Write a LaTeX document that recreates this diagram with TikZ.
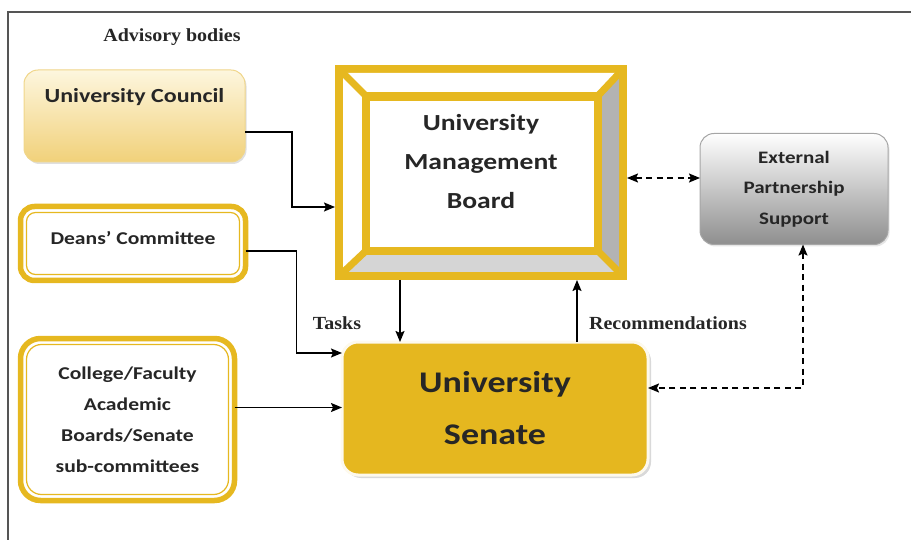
\documentclass[tikz,border=0pt]{standalone}
\usepackage{fontspec}
\setmainfont[FakeStretch=1.08]{Liberation Serif}
\newfontfamily\boxfont[FakeStretch=1.2]{Carlito}
\usetikzlibrary{arrows.meta,shadows,calc}
\definecolor{gold}{HTML}{E6B820}
\definecolor{goldfill}{HTML}{E5B71F}
\definecolor{ucTop}{HTML}{FDF6DE}
\definecolor{ucBot}{HTML}{F1D17A}
\definecolor{ucLine}{HTML}{F0D68A}
\definecolor{epsBot}{HTML}{8E8E8E}
\definecolor{epsLine}{HTML}{A6A6A6}
\definecolor{bevR}{HTML}{B3B3B3}
\definecolor{bevB}{HTML}{D5D5D5}
\definecolor{frameline}{HTML}{555555}
\tikzset{
  tip/.tip={Stealth[length=11pt,width=9pt,inset=2pt]},
  conn/.style={line width=1.6pt, -tip},
  dconn/.style={line width=1.6pt, dash pattern=on 6pt off 4.5pt, tip-tip},
  lbl/.style={font=\fontsize{18.5}{20}\selectfont\bfseries, text=black!85},
  btxt/.style={font=\boxfont\bfseries, text=black!85, align=center, inner sep=0pt},
  dbox/.style={draw=gold, line width=5.5pt, rounded corners=14pt, outer sep=0pt, fill=white},
}
\begin{document}
\begin{tikzpicture}[x=1pt,y=-1pt]
\useasboundingbox (0,0) rectangle (911,540);
% frame
\draw[frameline, line width=1.5pt] (8,540) -- (8,12) -- (911,12);
% advisory
\node[lbl] (adv) at (172,37) {Advisory bodies};
% University Council
\node[draw=ucLine, line width=1pt, rounded corners=14pt, top color=ucTop, bottom color=ucBot,
  minimum width=221pt, minimum height=92pt, outer sep=0pt,
  drop shadow={shadow xshift=1.5pt, shadow yshift=-2pt, opacity=0.25},
  btxt, font=\boxfont\bfseries\fontsize{20}{24}\selectfont, text height=13pt, text depth=39pt]
  (uc) at (134.5,116) {University Council};
% Deans
\node[dbox, minimum width=225pt, minimum height=74pt, btxt, font=\boxfont\bfseries\fontsize{18}{22}\selectfont, text height=12pt, text depth=9pt]
  (deans) at (133,243.5) {Deans’ Committee};
\draw[gold, line width=1.2pt, rounded corners=9pt] ($(deans.north west)+(6,6)$) rectangle ($(deans.south east)+(-6,-6)$);
% College
\node[dbox, rounded corners=20pt, minimum width=214pt, minimum height=162pt, btxt, font=\boxfont\bfseries\fontsize{18}{31}\selectfont]
  (college) at (127.5,419.5) {College/Faculty\\Academic\\Boards/Senate\\sub-committees};
\draw[gold, line width=1.2pt, rounded corners=15pt] ($(college.north west)+(6,6)$) rectangle ($(college.south east)+(-6,-6)$);
% UMB frame
\node[minimum width=292pt, minimum height=215pt, outer sep=0pt, inner sep=0pt] (umb) at (481,172.5) {};
\fill[gold] (335,65) rectangle (627,280);
\fill[white] (343,73) -- (619,73) -- (602,92) -- (362,92) -- cycle;
\fill[white] (343,73) -- (362,92) -- (362,255) -- (343,272) -- cycle;
\fill[bevR] (619,73) -- (619,272) -- (602,255) -- (602,92) -- cycle;
\fill[bevB] (343,272) -- (362,255) -- (602,255) -- (619,272) -- cycle;
\begin{scope}
\clip (343,73) rectangle (619,272);
\draw[gold, line width=7pt] (335,65) -- (370,100);
\draw[gold, line width=7pt] (627,65) -- (594,100);
\draw[gold, line width=7pt] (335,280) -- (370,247);
\draw[gold, line width=7pt] (627,280) -- (594,247);
\end{scope}
\fill[gold] (362,92) rectangle (602,255);
\fill[white] (370,101) rectangle (594,247);
\node[btxt, font=\boxfont\bfseries\fontsize{23}{39}\selectfont] (umbt) at (481,162) {University\\Management\\Board};
% EPS
\node[draw=epsLine, line width=1pt, rounded corners=14pt, top color=white, bottom color=epsBot,
  minimum width=188pt, minimum height=111pt, outer sep=0pt,
  drop shadow={shadow xshift=1.5pt, shadow yshift=-2pt, opacity=0.2},
  btxt, font=\boxfont\bfseries\fontsize{17.5}{30.5}\selectfont]
  (eps) at (794,189) {External\\Partnership\\Support};
% Senate
\node[fill=goldfill, draw=white!92!gold, line width=3pt, rounded corners=16pt,
  minimum width=306pt, minimum height=133pt, outer sep=0pt,
  drop shadow={shadow xshift=3pt, shadow yshift=-3pt, opacity=0.3},
  btxt, font=\boxfont\bfseries\fontsize{30}{52}\selectfont]
  (senate) at (495,408.5) {University\\Senate};
% connectors
\draw[conn] ([yshift=-16pt]uc.east) -- ++(47,0) |- ([yshift=-34.5pt]umb.west);
\draw[conn] ([yshift=-7.5pt]deans.east) -- ++(51,0) |- ([yshift=55.5pt]senate.west);
\draw[conn] ([yshift=12pt]college.east) -- ([yshift=12pt]college.east -| senate.west);
\draw[conn] ([xshift=-81pt]umb.south) -- ([xshift=-81pt]umb.south |- senate.north);
\draw[conn] ([xshift=82pt]senate.north) -- ([xshift=82pt]senate.north |- umb.south);
\draw[dconn] ([yshift=-5.5pt]umb.east) -- ([yshift=-5.5pt]umb.east -| eps.west);
\draw[dconn] ([xshift=9pt]eps.south) |- ([yshift=20.5pt]senate.east);
% labels
\node[lbl] (tasks) at (337,323) {Tasks};
\node[lbl] (recs) at (668,323) {Recommendations};
\end{tikzpicture}
\end{document}
